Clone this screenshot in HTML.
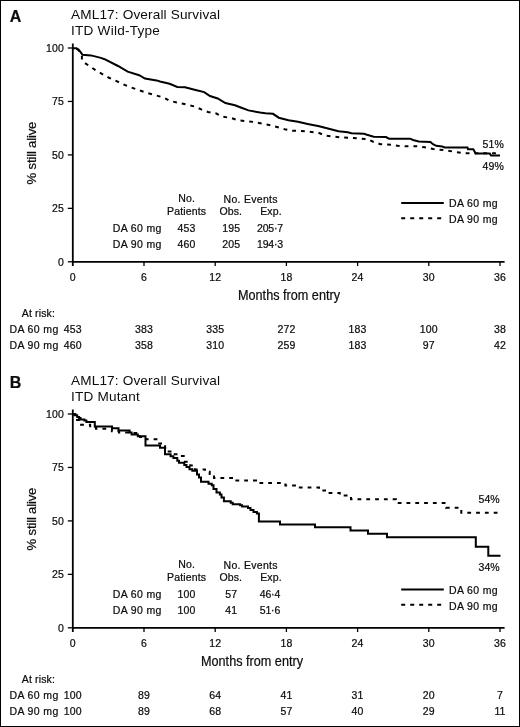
<!DOCTYPE html>
<html><head><meta charset="utf-8"><style>
html,body{margin:0;padding:0;background:#fff;}
body{width:520px;height:727px;overflow:hidden;}
svg{display:block;will-change:transform;}
text{font-family:"Liberation Sans", sans-serif;fill:#0d0d0d;stroke:#0d0d0d;stroke-width:0.22px;}
.sm{font-size:10.5px;letter-spacing:0.15px;}
.ttl{font-size:13.6px;letter-spacing:0.12px;stroke-width:0;}
.axt{font-size:13.1px;}
.lbl{font-size:16px;font-weight:bold;}
.axt2{font-size:13.9px;}
.ax{stroke:#000;stroke-width:1.8;}
.tk{stroke:#000;stroke-width:1.3;}
.cv{stroke:#000;stroke-width:2;fill:none;stroke-linejoin:miter;}
</style></head><body>
<svg width="520" height="727" viewBox="0 0 520 727">
<rect x="0.5" y="0.5" width="519" height="726" fill="#fff" stroke="#000" stroke-width="1"/>
<text x="9.8" y="21.5" class="lbl">A</text>
<text x="71" y="18.7" class="ttl" textLength="149.2">AML17: Overall Survival</text>
<text x="71" y="35.3" class="ttl" textLength="89">ITD Wild-Type</text>
<line x1="72.8" y1="43.5" x2="72.8" y2="266" class="ax"/>
<line x1="72.8" y1="261.8" x2="504.6" y2="261.8" class="ax"/>
<line x1="67.8" y1="48" x2="72.8" y2="48" class="tk"/>
<text x="64" y="51.7" class="sm" text-anchor="end">100</text>
<line x1="67.8" y1="101.45" x2="72.8" y2="101.45" class="tk"/>
<text x="64" y="105.15" class="sm" text-anchor="end">75</text>
<line x1="67.8" y1="154.9" x2="72.8" y2="154.9" class="tk"/>
<text x="64" y="158.6" class="sm" text-anchor="end">50</text>
<line x1="67.8" y1="208.35" x2="72.8" y2="208.35" class="tk"/>
<text x="64" y="212.05" class="sm" text-anchor="end">25</text>
<line x1="67.8" y1="261.8" x2="72.8" y2="261.8" class="tk"/>
<text x="64" y="265.5" class="sm" text-anchor="end">0</text>
<text x="72.8" y="280.6" class="sm" text-anchor="middle">0</text>
<line x1="144" y1="261.8" x2="144" y2="266" class="tk"/>
<text x="144" y="280.6" class="sm" text-anchor="middle">6</text>
<line x1="215.2" y1="261.8" x2="215.2" y2="266" class="tk"/>
<text x="215.2" y="280.6" class="sm" text-anchor="middle">12</text>
<line x1="286.4" y1="261.8" x2="286.4" y2="266" class="tk"/>
<text x="286.4" y="280.6" class="sm" text-anchor="middle">18</text>
<line x1="357.6" y1="261.8" x2="357.6" y2="266" class="tk"/>
<text x="357.6" y="280.6" class="sm" text-anchor="middle">24</text>
<line x1="428.8" y1="261.8" x2="428.8" y2="266" class="tk"/>
<text x="428.8" y="280.6" class="sm" text-anchor="middle">30</text>
<line x1="500" y1="261.8" x2="500" y2="266" class="tk"/>
<text x="500" y="280.6" class="sm" text-anchor="middle">36</text>
<text x="238" y="299.6" class="axt2" textLength="102" lengthAdjust="spacingAndGlyphs">Months from entry</text>
<text transform="translate(36.4,153) rotate(-90)" class="axt" text-anchor="middle" textLength="62.8">% still alive</text>
<text x="186.6" y="202.4" class="sm" text-anchor="middle">No.</text>
<text x="186.6" y="215.3" class="sm" text-anchor="middle">Patients</text>
<text x="250.6" y="202.6" class="sm" text-anchor="middle" textLength="54">No. Events</text>
<text x="230.8" y="215.3" class="sm" text-anchor="middle">Obs.</text>
<text x="271" y="215.3" class="sm" text-anchor="middle">Exp.</text>
<text x="112.8" y="231.7" class="sm" textLength="48.8">DA 60 mg</text>
<text x="186.6" y="231.7" class="sm" text-anchor="middle">453</text>
<text x="231.2" y="231.7" class="sm" text-anchor="middle">195</text>
<text x="270.1" y="231.7" class="sm" text-anchor="middle" textLength="26.2">205·7</text>
<text x="112.8" y="247.7" class="sm" textLength="48.8">DA 90 mg</text>
<text x="186.6" y="247.7" class="sm" text-anchor="middle">460</text>
<text x="231.2" y="247.7" class="sm" text-anchor="middle">205</text>
<text x="270.1" y="247.7" class="sm" text-anchor="middle" textLength="26.2">194·3</text>
<line x1="401.2" y1="203" x2="443.8" y2="203" class="cv"/>
<line x1="401.2" y1="218.3" x2="443" y2="218.3" class="cv" stroke-dasharray="4 5"/>
<text x="449" y="207.2" class="sm" textLength="48.8">DA 60 mg</text>
<text x="449" y="223.1" class="sm" textLength="48.8">DA 90 mg</text>
<text x="21.8" y="316.8" class="sm">At risk:</text>
<text x="9.6" y="333" class="sm" textLength="48.8">DA 60 mg</text>
<text x="72.8" y="333" class="sm" text-anchor="middle">453</text>
<text x="144" y="333" class="sm" text-anchor="middle">383</text>
<text x="215.2" y="333" class="sm" text-anchor="middle">335</text>
<text x="286.4" y="333" class="sm" text-anchor="middle">272</text>
<text x="357.6" y="333" class="sm" text-anchor="middle">183</text>
<text x="428.8" y="333" class="sm" text-anchor="middle">100</text>
<text x="500" y="333" class="sm" text-anchor="middle">38</text>
<text x="9.6" y="348.9" class="sm" textLength="48.8">DA 90 mg</text>
<text x="72.8" y="348.9" class="sm" text-anchor="middle">460</text>
<text x="144" y="348.9" class="sm" text-anchor="middle">358</text>
<text x="215.2" y="348.9" class="sm" text-anchor="middle">310</text>
<text x="286.4" y="348.9" class="sm" text-anchor="middle">259</text>
<text x="357.6" y="348.9" class="sm" text-anchor="middle">183</text>
<text x="428.8" y="348.9" class="sm" text-anchor="middle">97</text>
<text x="500" y="348.9" class="sm" text-anchor="middle">42</text>
<text x="482.6" y="147.7" class="sm">51%</text>
<text x="482.6" y="170.4" class="sm">49%</text>
<polyline points="72.8,48.8 76.4,48.9 78.5,50.1 80.4,52.6 81.9,55.3 81.9,60 84.4,62.7 96,70.5 108.5,77.5 127.7,86.2 146.9,92.9 163.8,97.5 169.6,100.8 179.2,103 187,104.6 194.6,106.5 201.3,109.4 208,112 215.8,113.3 221.5,116.5 231.2,118 237,120 244.6,121 254.2,122 261.5,123.5 269.2,125 277,127 284.6,129.2 292.3,130.8 300,130.8 309.6,131.7 318.3,132.7 325,135.6 332.7,136.5 342.3,137.5 351.5,138 359,138.5 367,139 373.7,142 380.4,144.2 392,144.8 397.7,145.8 407.3,146.3 417,146.3 424.6,147.3 433.3,149 446,150.4 457.3,152.2 464,153.3 500,153.3" class="cv" stroke-dasharray="3.8 5" stroke-dashoffset="5"/>
<polyline points="72.5,48.3 76.4,48.3 78.5,49.5 80.6,52.2 82.5,54.8 91,55.4 100.8,57.9 104.6,59.2 118,66 127.7,71.7 139.2,75.2 145,78.5 156.5,80.4 160,81.5 169.6,83.8 177.3,86.9 185,87.3 194.6,89.8 204.2,92.1 210,96 217.7,98.5 225.4,103 235,105.2 240.8,107.5 248.5,110.4 260,112.5 265.4,113.3 273,113.8 278.8,117.7 288.5,120.2 298,121.7 307.7,124 319.2,126.3 330.8,129.2 338.5,131.2 347.7,132.3 351.5,133.3 364,133.7 367,134.8 373.7,136.7 386,137.1 389,138.7 410.2,138.7 413,140 418.8,141.5 430.4,142 433,144.2 436.2,145.8 442.3,146.5 444.6,147.5 467.5,147.5 468,149.2 473.3,149.2 475.7,153.6 489.8,153.6 491,155.6 500,155.6" class="cv"/>
<text x="9.8" y="387.5" class="lbl">B</text>
<text x="71" y="384.7" class="ttl" textLength="149.2">AML17: Overall Survival</text>
<text x="71" y="401.3" class="ttl" textLength="69">ITD Mutant</text>
<line x1="72.8" y1="409.5" x2="72.8" y2="632" class="ax"/>
<line x1="72.8" y1="627.8" x2="504.6" y2="627.8" class="ax"/>
<line x1="67.8" y1="414" x2="72.8" y2="414" class="tk"/>
<text x="64" y="417.7" class="sm" text-anchor="end">100</text>
<line x1="67.8" y1="467.45" x2="72.8" y2="467.45" class="tk"/>
<text x="64" y="471.15" class="sm" text-anchor="end">75</text>
<line x1="67.8" y1="520.9" x2="72.8" y2="520.9" class="tk"/>
<text x="64" y="524.6" class="sm" text-anchor="end">50</text>
<line x1="67.8" y1="574.35" x2="72.8" y2="574.35" class="tk"/>
<text x="64" y="578.05" class="sm" text-anchor="end">25</text>
<line x1="67.8" y1="627.8" x2="72.8" y2="627.8" class="tk"/>
<text x="64" y="631.5" class="sm" text-anchor="end">0</text>
<text x="72.8" y="646.6" class="sm" text-anchor="middle">0</text>
<line x1="144" y1="627.8" x2="144" y2="632" class="tk"/>
<text x="144" y="646.6" class="sm" text-anchor="middle">6</text>
<line x1="215.2" y1="627.8" x2="215.2" y2="632" class="tk"/>
<text x="215.2" y="646.6" class="sm" text-anchor="middle">12</text>
<line x1="286.4" y1="627.8" x2="286.4" y2="632" class="tk"/>
<text x="286.4" y="646.6" class="sm" text-anchor="middle">18</text>
<line x1="357.6" y1="627.8" x2="357.6" y2="632" class="tk"/>
<text x="357.6" y="646.6" class="sm" text-anchor="middle">24</text>
<line x1="428.8" y1="627.8" x2="428.8" y2="632" class="tk"/>
<text x="428.8" y="646.6" class="sm" text-anchor="middle">30</text>
<line x1="500" y1="627.8" x2="500" y2="632" class="tk"/>
<text x="500" y="646.6" class="sm" text-anchor="middle">36</text>
<text x="201" y="665.6" class="axt2" textLength="102" lengthAdjust="spacingAndGlyphs">Months from entry</text>
<text transform="translate(36.4,519) rotate(-90)" class="axt" text-anchor="middle" textLength="62.8">% still alive</text>
<text x="186.6" y="568.4" class="sm" text-anchor="middle">No.</text>
<text x="186.6" y="581.3" class="sm" text-anchor="middle">Patients</text>
<text x="250.6" y="568.6" class="sm" text-anchor="middle" textLength="54">No. Events</text>
<text x="230.8" y="581.3" class="sm" text-anchor="middle">Obs.</text>
<text x="271" y="581.3" class="sm" text-anchor="middle">Exp.</text>
<text x="112.8" y="597.7" class="sm" textLength="48.8">DA 60 mg</text>
<text x="186.6" y="597.7" class="sm" text-anchor="middle">100</text>
<text x="231.2" y="597.7" class="sm" text-anchor="middle">57</text>
<text x="270.1" y="597.7" class="sm" text-anchor="middle" textLength="20.6">46·4</text>
<text x="112.8" y="613.7" class="sm" textLength="48.8">DA 90 mg</text>
<text x="186.6" y="613.7" class="sm" text-anchor="middle">100</text>
<text x="231.2" y="613.7" class="sm" text-anchor="middle">41</text>
<text x="270.1" y="613.7" class="sm" text-anchor="middle" textLength="20.6">51·6</text>
<line x1="401.2" y1="589.5" x2="443.8" y2="589.5" class="cv"/>
<line x1="401.2" y1="604.8" x2="443" y2="604.8" class="cv" stroke-dasharray="4 5"/>
<text x="449" y="593.7" class="sm" textLength="48.8">DA 60 mg</text>
<text x="449" y="609.6" class="sm" textLength="48.8">DA 90 mg</text>
<text x="21.8" y="682.8" class="sm">At risk:</text>
<text x="9.6" y="699" class="sm" textLength="48.8">DA 60 mg</text>
<text x="72.8" y="699" class="sm" text-anchor="middle">100</text>
<text x="144" y="699" class="sm" text-anchor="middle">89</text>
<text x="215.2" y="699" class="sm" text-anchor="middle">64</text>
<text x="286.4" y="699" class="sm" text-anchor="middle">41</text>
<text x="357.6" y="699" class="sm" text-anchor="middle">31</text>
<text x="428.8" y="699" class="sm" text-anchor="middle">20</text>
<text x="500" y="699" class="sm" text-anchor="middle">7</text>
<text x="9.6" y="714.9" class="sm" textLength="48.8">DA 90 mg</text>
<text x="72.8" y="714.9" class="sm" text-anchor="middle">100</text>
<text x="144" y="714.9" class="sm" text-anchor="middle">89</text>
<text x="215.2" y="714.9" class="sm" text-anchor="middle">68</text>
<text x="286.4" y="714.9" class="sm" text-anchor="middle">57</text>
<text x="357.6" y="714.9" class="sm" text-anchor="middle">40</text>
<text x="428.8" y="714.9" class="sm" text-anchor="middle">29</text>
<text x="500" y="714.9" class="sm" text-anchor="middle">11</text>
<text x="478.4" y="502.9" class="sm">54%</text>
<text x="478.4" y="571" class="sm">34%</text>
<polyline points="73,414.2 75.5,414.2 75.5,419.9 80,419.9 80,424.7 90.2,424.7 90.2,427.6 96,427.6 96,428.8 111.9,428.8 111.9,431.2 119,431.2 119,432.4 129,432.4 129,432.9 140,432.9 140,437 146,437 146,439.2 157.8,439.2 157.8,443.4 165.1,443.4 165.1,448 166.9,448 166.9,451.5 171.6,451.5 171.6,454.3 180.6,454.3 180.6,455.9 184.9,455.9 184.9,461.7 190.2,461.7 190.2,465.4 194.9,465.4 194.9,469.4 205,469.4 205,471.8 209.7,471.8 209.7,474 214,474 214,478 234.3,478 234.3,480.6 256,480.6 256,483 285.4,483 285.4,485.5 297,485.5 297,487.6 319,487.6 319,490.4 325,490.4 325,493 339.8,493 339.8,495.5 351,495.5 351,499.3 396,499.3 396,503.1 446,503.1 446,507.7 461.3,507.7 461.3,512.7 500.5,512.7" class="cv" stroke-dasharray="3.8 5" stroke-dashoffset="0"/>
<polyline points="73,414.2 75,414.2 75,415.2 77.2,415.2 77.2,417 79.1,417 79.1,418 80.6,418 80.6,419.4 84.4,419.4 84.4,420.4 86.4,420.4 86.4,422 94.8,422 94.8,426.6 112,426.6 112,428.3 118.5,428.3 118.5,430.4 129.6,430.4 129.6,432.4 131.6,432.4 131.6,434.4 137.8,434.4 137.8,436.3 145.5,436.3 145.5,445.5 160,445.5 160,447.8 165,447.8 165,454.3 170.6,454.3 170.6,456.2 173.4,456.2 173.4,458 177.3,458 177.3,460.7 179,460.7 179,462.8 184.3,462.8 184.3,464.9 186.5,464.9 186.5,467 189.5,467 189.5,469.2 192.3,469.2 192.3,470.7 197,470.7 197,474.5 199,474.5 199,477.5 201,477.5 201,481.8 208.5,481.8 208.5,483.8 211.8,483.8 211.8,485.2 213.5,485.2 213.5,489 216.5,489 216.5,492.6 219.9,492.6 219.9,494.5 221.5,494.5 221.5,497.5 223.9,497.5 223.9,501.3 230.7,501.3 230.7,502.7 232.7,502.7 232.7,504.3 240.1,504.3 240.1,505.2 242.1,505.2 242.1,506.5 248,506.5 248,508 250.5,508 250.5,510 253.5,510 253.5,512.1 256.9,512.1 256.9,513.6 258.9,513.6 258.9,521.4 280,521.4 280,524.5 315,524.5 315,527.3 350.5,527.3 350.5,530.5 368,530.5 368,533.8 387,533.8 387,537.3 475.8,537.3 475.8,546.7 488.3,546.7 488.3,555.8 500.5,555.8" class="cv"/>
</svg>
</body></html>
